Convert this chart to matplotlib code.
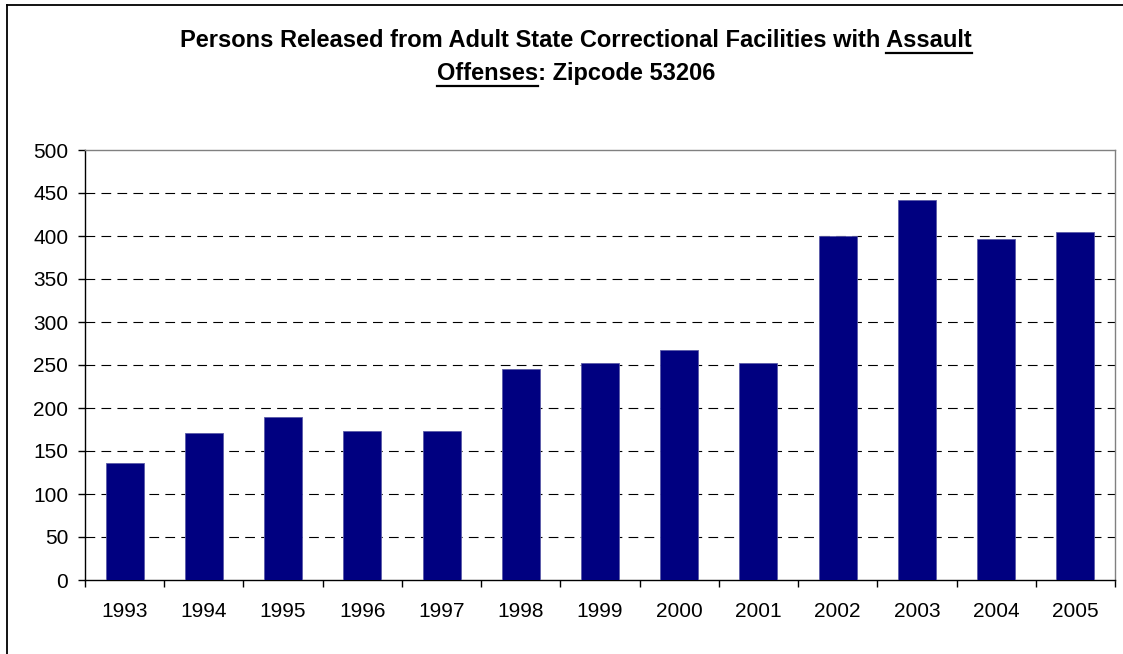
import matplotlib
matplotlib.use("Agg")
import matplotlib.pyplot as plt
from matplotlib.lines import Line2D

# data
years = ["1993", "1994", "1995", "1996", "1997", "1998", "1999",
         "2000", "2001", "2002", "2003", "2004", "2005"]
released = [136, 171, 189, 173, 173, 245, 252, 268, 252, 400, 442, 396, 405]
y_ticks = [0, 50, 100, 150, 200, 250, 300, 350, 400, 450, 500]
title_line1 = "Persons Released from Adult State Correctional Facilities with Assault"
title_line2 = "Offenses: Zipcode 53206"
underlined1 = "Assault"
underlined2 = "Offenses"

plt.rcParams['font.family'] = ['Liberation Sans', 'DejaVu Sans']
plt.rcParams['lines.scale_dashes'] = False

W, H = 1123, 654
fig = plt.figure(figsize=(W / 100, H / 100), dpi=100)
fig.patch.set_facecolor("white")

def fx(px):
    return px / W

def fy(py):
    return 1 - py / H

# plot area in pixels: left 85, right 1115, top 150, bottom 580
ax = fig.add_axes([fx(85), fy(580), fx(1115) - fx(85), fy(150) - fy(580)])
x = range(len(years))
ax.bar(x, released, width=0.48, color="#000080", edgecolor="#5a5aa8",
       linewidth=0.6, zorder=3)

ax.set_xlim(-0.5, len(years) - 0.5)
ax.set_ylim(0, 500)
ax.set_yticks(y_ticks)
ax.set_yticklabels([str(v) for v in y_ticks])
ax.set_xticks(list(x))
ax.set_xticklabels(years)
ax.tick_params(axis="x", length=0, pad=16, labelsize=15)
ax.set_xticks([i + 0.5 for i in range(-1, len(years))], minor=True)
ax.tick_params(axis="x", which="minor", length=5, width=1, color="black", direction="out")
ax.tick_params(axis="y", length=5, width=1, pad=7, labelsize=15, direction="out")

for v in y_ticks[1:-1]:
    ax.axhline(v, color="black", linewidth=0.8, linestyle=(0, (7, 4.5)), zorder=1)

ax.spines["left"].set_color("black")
ax.spines["bottom"].set_color("black")
ax.spines["top"].set_color("#808080")
ax.spines["right"].set_color("#808080")
for s in ax.spines.values():
    s.set_linewidth(1)

# outer chart frame (left and top edges visible)
fig.add_artist(Line2D([fx(7), fx(7)], [fy(5), 0], color="black", linewidth=1.3))
fig.add_artist(Line2D([fx(7), 1], [fy(5), fy(5)], color="black", linewidth=1.3))

# title with underlined words
renderer = fig.canvas.get_renderer()
cx = fx(576)
tsize = 17
t1 = fig.text(cx, fy(47), title_line1, ha="center", va="baseline",
              fontsize=tsize, fontweight="bold")
t2 = fig.text(cx, fy(80), title_line2, ha="center", va="baseline",
              fontsize=tsize, fontweight="bold")
probe = fig.text(0, 0, underlined1, fontsize=tsize, fontweight="bold")
w1 = probe.get_window_extent(renderer).width
probe.set_text(underlined2)
w2 = probe.get_window_extent(renderer).width
probe.remove()

bb1 = t1.get_window_extent(renderer)
bb2 = t2.get_window_extent(renderer)
fig.add_artist(Line2D([(bb1.x1 - w1) / W, bb1.x1 / W], [fy(53), fy(53)],
                      color="black", linewidth=1.6))
fig.add_artist(Line2D([bb2.x0 / W, (bb2.x0 + w2) / W], [fy(86), fy(86)],
                      color="black", linewidth=1.6))

fig.savefig("out.png", dpi=100)
plt.close()
